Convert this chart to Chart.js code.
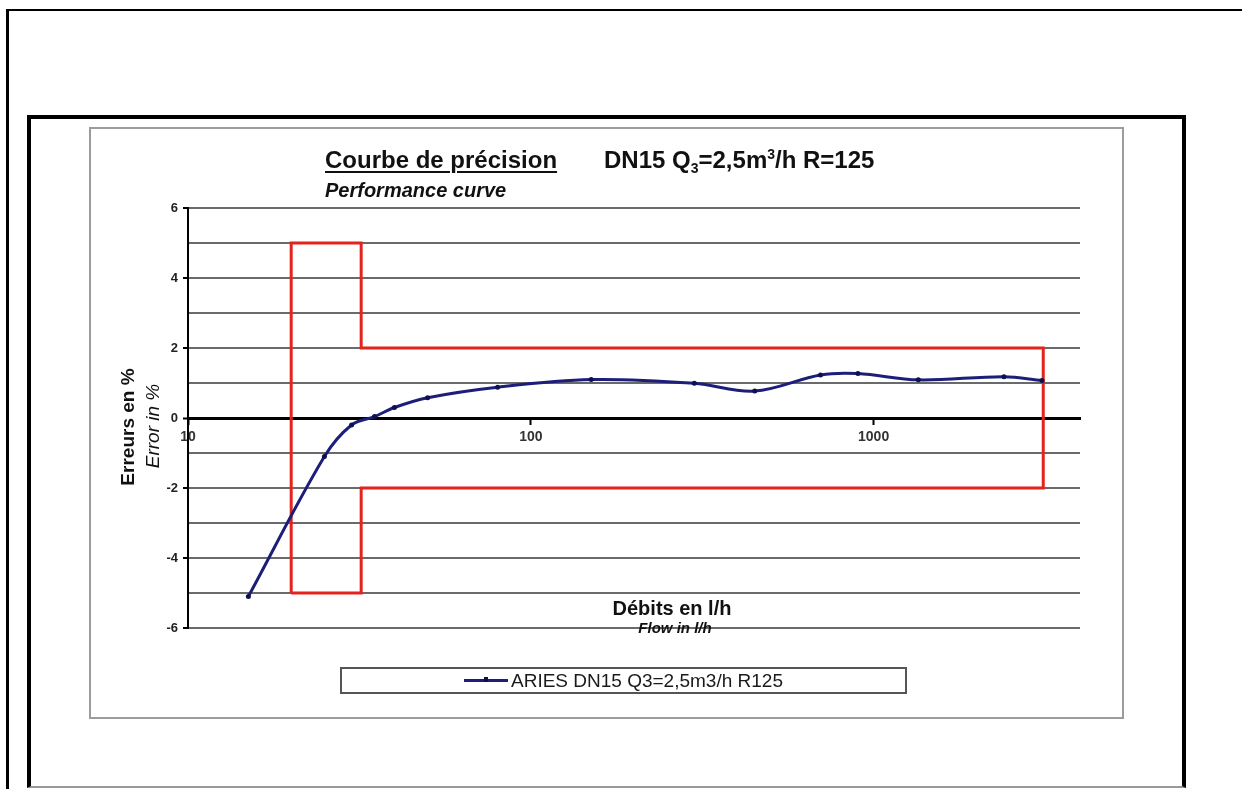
<!DOCTYPE html>
<html lang="fr">
<head>
<meta charset="UTF-8">
<title>Courbe de précision DN15</title>
<script src="https://cdn.jsdelivr.net/npm/chart.js"></script>
<style>
  body {
    margin: 0;
    background: #fff;
    font-family: Arial, "Liberation Sans", sans-serif;
    color: #111;
  }
  .page {
    position: relative;
    width: 1242px;
    height: 789px;
    overflow: hidden;
  }
  .outer {
    position: absolute;
    left: 6px;
    top: 9px;
    width: 1300px;
    height: 900px;
    border-top: 2px solid #000;
    border-left: 3px solid #000;
  }
  .frame {
    position: absolute;
    left: 27px;
    top: 115px;
    width: 1151px;
    height: 667px;
    border: 4px solid #000;
    border-bottom: 2px solid #999;
  }
  .chartbox {
    position: absolute;
    left: 89px;
    top: 127px;
    width: 1031px;
    height: 588px;
    border: 2px solid #9c9c9c;
  }
  #curve {
    position: absolute;
    left: 89px;
    top: 127px;
  }
  .txt {
    position: absolute;
    white-space: nowrap;
  }
  .title {
    left: 325px;
    top: 146px;
    font-size: 24px;
    line-height: 28px;
    font-weight: bold;
    text-decoration: underline;
    text-decoration-thickness: 2px;
    text-underline-offset: 3px;
  }
  .title2 {
    left: 604px;
    top: 146px;
    font-size: 24px;
    line-height: 28px;
    font-weight: bold;
  }
  .title2 .sub, .title2 .sup {
    font-size: 14px;
    position: relative;
  }
  .title2 .sub { top: 5px; }
  .title2 .sup { top: -9px; }
  .subtitle {
    left: 325px;
    top: 178px;
    font-size: 20px;
    line-height: 24px;
    font-weight: bold;
    font-style: italic;
  }
  .ytitle {
    width: 200px;
    height: 24px;
    line-height: 24px;
    text-align: center;
    font-size: 19px;
    transform: rotate(-90deg);
  }
  .xtitle {
    width: 200px;
    text-align: center;
  }
  .legend {
    position: absolute;
    left: 340px;
    top: 667px;
    width: 563px;
    height: 23px;
    border: 2px solid #555;
    display: flex;
    align-items: center;
    justify-content: center;
    font-size: 19px;
    color: #1a1a1a;
  }
  .legend .sym {
    position: relative;
    width: 44px;
    height: 3px;
    background: #1d1d7a;
    margin-right: 3px;
  }
  .legend .sym::after {
    content: "";
    position: absolute;
    left: 20px;
    top: -2px;
    width: 4px;
    height: 5px;
    background: #101050;
  }
</style>
</head>
<body>
<div class="page">
  <div class="outer"></div>
  <div class="frame"></div>
  <div class="chartbox"></div>
  <canvas id="curve" width="1035" height="592"></canvas>

  <div class="txt title">Courbe de précision</div>
  <div class="txt title2">DN15 Q<span class="sub">3</span>=2,5m<span class="sup">3</span>/h R=125</div>
  <div class="txt subtitle">Performance curve</div>

  <div class="txt ytitle" style="left:28px; top:415px; font-weight:bold;">Erreurs en %</div>
  <div class="txt ytitle" style="left:53px; top:414px; font-style:italic;">Error in %</div>

  <div class="txt xtitle" style="left:572px; top:596px; font-size:20px; line-height:24px; font-weight:bold;">Débits en l/h</div>
  <div class="txt xtitle" style="left:575px; top:619px; font-size:15px; line-height:18px; font-weight:bold; font-style:italic;">Flow in l/h</div>

  <div class="legend"><span class="sym"></span><span id="legendText"></span></div>
</div>

<script>
  // relevés du compteur (débit l/h, erreur %)
  const flows = [15, 25, 30, 35, 40, 50, 80, 150, 300, 450, 700, 900, 1350, 2400, 3100];
  const errors = [-5.1, -1.1, -0.2, 0.04, 0.3, 0.58, 0.88, 1.1, 0.99, 0.77, 1.23, 1.27, 1.09, 1.18, 1.07];

  // gabarit des erreurs maximales tolérées (Q1=20, Q2=32, Q4=3125)
  const limitFlows = [20, 20, 32, 32, 3125, 3125, 32, 32, 20];
  const limitErrors = [-5, 5, 5, 2, 2, -2, -2, -5, -5];

  const xTicks = [10, 100, 1000];
  const seriesName = 'ARIES DN15 Q3=2,5m3/h R125';

  document.getElementById('legendText').textContent = seriesName;

  const tickFont = { family: 'Arial, "Liberation Sans", sans-serif', size: 13, weight: 'bold' };

  const ctx = document.getElementById('curve').getContext('2d');
  const curveChart = new Chart(ctx, {
    type: 'line',
    data: {
      datasets: [
        {
          label: seriesName,
          data: flows.map((f, i) => ({ x: f, y: errors[i] })),
          borderColor: '#1d1d7a',
          backgroundColor: '#101050',
          borderWidth: 3,
          pointRadius: 2.5,
          pointBorderWidth: 0,
          tension: 0.35,
          fill: false,
          order: 0
        },
        {
          label: 'EMT',
          data: limitFlows.map((f, i) => ({ x: f, y: limitErrors[i] })),
          borderColor: '#e3241d',
          borderWidth: 3,
          pointRadius: 0,
          tension: 0,
          fill: false,
          order: 1
        }
      ]
    },
    options: {
      responsive: false,
      animation: false,
      layout: { padding: { left: 59, right: 44, top: 81, bottom: 91 } },
      plugins: {
        legend: { display: false },
        tooltip: { enabled: false }
      },
      scales: {
        x: {
          type: 'logarithmic',
          min: 10,
          max: 4000,
          position: { y: 0 },
          afterBuildTicks: s => { s.ticks = xTicks.map(v => ({ value: v })); },
          grid: { drawOnChartArea: false, tickLength: 5, color: '#000', tickWidth: 2 },
          border: { color: '#000', width: 3 },
          ticks: {
            autoSkip: false,
            maxRotation: 0,
            padding: 6,
            color: '#333',
            font: { family: tickFont.family, size: 14, weight: 'bold' },
            callback: v => String(v)
          }
        },
        y: {
          min: -6,
          max: 6,
          afterFit: s => { s.width = 40; },
          grid: {
            color: c => c.tick.value === 0 ? '#000' : '#6a6a6a',
            lineWidth: c => c.tick.value === 0 ? 3 : 2,
            tickLength: 5,
            tickWidth: 2,
            tickColor: c => c.tick.value % 2 === 0 ? '#000' : 'rgba(0,0,0,0)'
          },
          border: { color: '#000', width: 2 },
          ticks: {
            stepSize: 1,
            padding: 5,
            color: '#222',
            font: tickFont,
            callback: v => v % 2 === 0 ? String(v) : ''
          }
        }
      }
    }
  });
</script>
</body>
</html>
